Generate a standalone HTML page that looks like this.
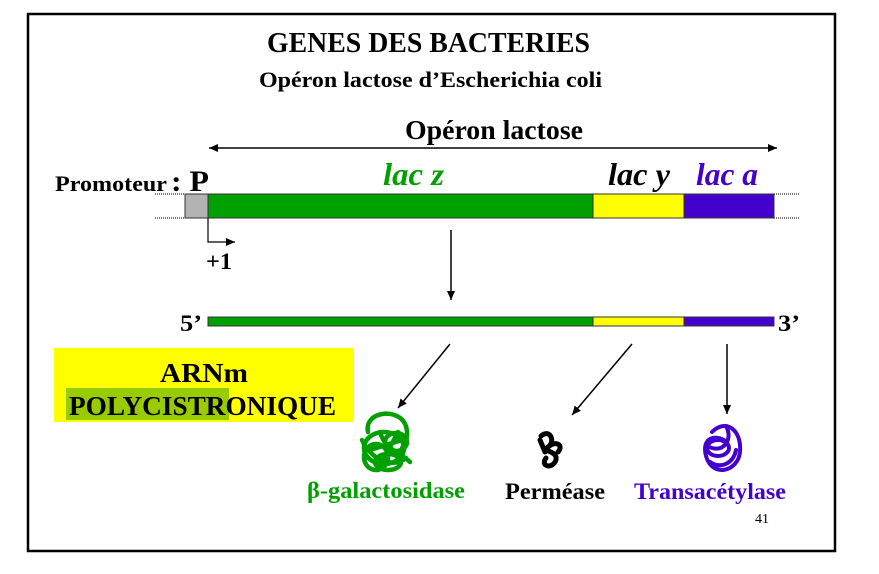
<!DOCTYPE html>
<html><head><meta charset="utf-8"><style>
html,body{margin:0;padding:0;background:#fff;}
svg{display:block;}
text{font-family:"Liberation Serif",serif;font-weight:bold;}
</style></head><body>
<svg width="879" height="574" viewBox="0 0 879 574" xmlns="http://www.w3.org/2000/svg">
<defs>
<marker id="ah" markerWidth="10" markerHeight="10" refX="9" refY="5" orient="auto" markerUnits="userSpaceOnUse"><path d="M0,1 L9,5 L0,9 z" fill="#000"/></marker>
<marker id="ahs" markerWidth="10" markerHeight="10" refX="1" refY="5" orient="auto" markerUnits="userSpaceOnUse"><path d="M10,1 L1,5 L10,9 z" fill="#000"/></marker>
</defs>
<rect x="28" y="14" width="807" height="537" fill="#fff" stroke="#000" stroke-width="2.5"/>
<text x="267" y="52" font-size="29" textLength="323" lengthAdjust="spacingAndGlyphs">GENES DES BACTERIES</text>
<text x="259" y="87" font-size="22" textLength="343" lengthAdjust="spacingAndGlyphs">Opéron lactose d’Escherichia coli</text>
<text x="405" y="139" font-size="27" textLength="178" lengthAdjust="spacingAndGlyphs">Opéron lactose</text>
<line x1="209" y1="148" x2="777" y2="148" stroke="#000" stroke-width="1.5" marker-start="url(#ahs)" marker-end="url(#ah)"/>
<text x="55" y="191" font-size="22" textLength="112" lengthAdjust="spacingAndGlyphs">Promoteur</text>
<text x="171" y="191" font-size="30" textLength="38" lengthAdjust="spacingAndGlyphs">: P</text>
<text x="383" y="185" font-size="32" font-style="italic" fill="#00a000" textLength="61" lengthAdjust="spacingAndGlyphs">lac z</text>
<text x="608" y="185" font-size="32" font-style="italic" fill="#000" textLength="62" lengthAdjust="spacingAndGlyphs">lac y</text>
<text x="696" y="185" font-size="32" font-style="italic" fill="#4400cc" textLength="62" lengthAdjust="spacingAndGlyphs">lac a</text>
<line x1="155" y1="194" x2="185" y2="194" stroke="#000" stroke-dasharray="1,1"/>
<line x1="155" y1="218" x2="185" y2="218" stroke="#000" stroke-dasharray="1,1"/>
<line x1="774" y1="194" x2="800" y2="194" stroke="#000" stroke-dasharray="1,1"/>
<line x1="774" y1="218" x2="800" y2="218" stroke="#000" stroke-dasharray="1,1"/>
<rect x="185" y="194" width="23" height="24" fill="#b3b3b3" stroke="#333"/>
<rect x="208" y="194" width="385" height="24" fill="#00a000" stroke="#333"/>
<rect x="593" y="194" width="91" height="24" fill="#ffff00" stroke="#333"/>
<rect x="684" y="194" width="90" height="24" fill="#4400cc" stroke="#333"/>
<polyline points="208,218 208,242 235,242" fill="none" stroke="#000" stroke-width="1.2" marker-end="url(#ah)"/>
<text x="206" y="269" font-size="23" textLength="26" lengthAdjust="spacingAndGlyphs">+1</text>
<line x1="451" y1="230" x2="451" y2="300" stroke="#000" stroke-width="1.5" marker-end="url(#ah)"/>
<text x="180" y="331" font-size="23" textLength="22" lengthAdjust="spacingAndGlyphs">5’</text>
<rect x="208" y="317" width="385" height="9" fill="#00a000" stroke="#333"/>
<rect x="593" y="317" width="91" height="9" fill="#ffff00" stroke="#333"/>
<rect x="684" y="317" width="90" height="9" fill="#4400cc" stroke="#333"/>
<text x="778" y="331" font-size="23" textLength="22" lengthAdjust="spacingAndGlyphs">3’</text>
<rect x="54" y="348" width="300" height="74" fill="#ffff00"/>
<rect x="66" y="388" width="163" height="32" fill="#99cc00"/>
<text x="160" y="382" font-size="27" textLength="88" lengthAdjust="spacingAndGlyphs">ARNm</text>
<text x="69" y="415" font-size="27" textLength="267" lengthAdjust="spacingAndGlyphs">POLYCISTRONIQUE</text>
<line x1="450" y1="344" x2="398" y2="408" stroke="#000" stroke-width="1.5" marker-end="url(#ah)"/>
<line x1="632" y1="344" x2="572" y2="415" stroke="#000" stroke-width="1.5" marker-end="url(#ah)"/>
<line x1="727" y1="344" x2="727" y2="414" stroke="#000" stroke-width="1.5" marker-end="url(#ah)"/>
<g fill="none" stroke="#00a000" stroke-width="4.5" stroke-linecap="round">
<path d="M368,432 C364,412 395,408 404,422 C410,432 406,444 402,448"/>
<ellipse cx="384" cy="448" rx="20" ry="16"/>
<ellipse cx="376" cy="457" rx="12" ry="13"/>
<ellipse cx="396" cy="442" rx="11" ry="9"/>
<ellipse cx="388" cy="462" rx="13" ry="8"/>
<path d="M362,440 C372,462 395,468 406,458 M380,432 C385,450 400,452 410,462 M370,450 L402,440 M378,470 L398,432"/>
</g>
<g fill="none" stroke="#000" stroke-width="5" stroke-linecap="round">
<path d="M541,436 C550,428 556,442 548,447 C540,452 558,450 556,460 C552,470 540,466 546,458 M548,447 C556,440 564,445 558,452 M540,440 L545,452"/>
</g>
<g fill="none" stroke="#4400cc" stroke-width="4" stroke-linecap="round">
<path d="M712,432 C726,418 742,430 740,452 C738,472 712,478 706,456 C702,440 712,434 724,440"/>
<ellipse cx="718" cy="448" rx="11" ry="8"/>
<path d="M706,445 C722,456 734,440 726,426 M710,462 C722,470 734,462 736,450"/>
</g>
<text x="386" y="498" font-size="23" fill="#00a000" text-anchor="middle" textLength="158" lengthAdjust="spacingAndGlyphs">β-galactosidase</text>
<text x="555" y="499" font-size="23" fill="#000" text-anchor="middle" textLength="100" lengthAdjust="spacingAndGlyphs">Perméase</text>
<text x="710" y="499" font-size="23" fill="#4400cc" text-anchor="middle" textLength="152" lengthAdjust="spacingAndGlyphs">Transacétylase</text>
<text x="762" y="523" font-size="14" style="font-weight:normal" text-anchor="middle">41</text>
</svg>
</body></html>
